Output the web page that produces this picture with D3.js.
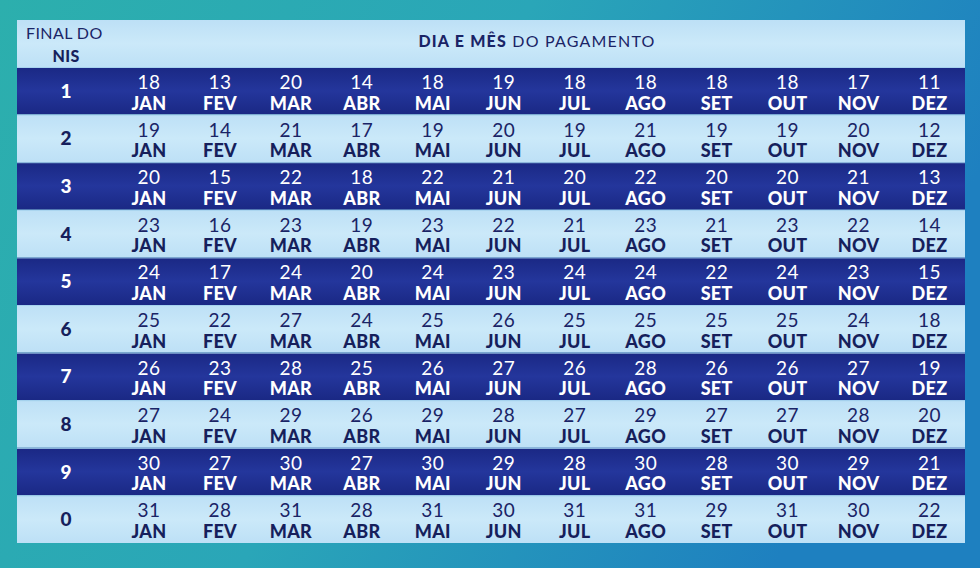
<!DOCTYPE html>
<html>
<head>
<meta charset="utf-8">
<script src="https://cdn.jsdelivr.net/npm/d3@7"></script>
<style>
  html, body { margin: 0; padding: 0; }
  body { width: 980px; height: 568px; overflow: hidden; }
  text { font-family: Lato, "Open Sans", sans-serif; }
</style>
</head>
<body>
<svg id="chart" width="980" height="568"></svg>
<script>
const nisEndings = ['1', '2', '3', '4', '5', '6', '7', '8', '9', '0'];
const months = ['JAN', 'FEV', 'MAR', 'ABR', 'MAI', 'JUN', 'JUL', 'AGO', 'SET', 'OUT', 'NOV', 'DEZ'];

// payment day per NIS ending, one array per row, Jan..Dez
const days1 = [18, 13, 20, 14, 18, 19, 18, 18, 18, 18, 17, 11];
const days2 = [19, 14, 21, 17, 19, 20, 19, 21, 19, 19, 20, 12];
const days3 = [20, 15, 22, 18, 22, 21, 20, 22, 20, 20, 21, 13];
const days4 = [23, 16, 23, 19, 23, 22, 21, 23, 21, 23, 22, 14];
const days5 = [24, 17, 24, 20, 24, 23, 24, 24, 22, 24, 23, 15];
const days6 = [25, 22, 27, 24, 25, 26, 25, 25, 25, 25, 24, 18];
const days7 = [26, 23, 28, 25, 26, 27, 26, 28, 26, 26, 27, 19];
const days8 = [27, 24, 29, 26, 29, 28, 27, 29, 27, 27, 28, 20];
const days9 = [30, 27, 30, 27, 30, 29, 28, 30, 28, 30, 29, 21];
const days0 = [31, 28, 31, 28, 31, 30, 31, 31, 29, 31, 30, 22];

const headerLeft = ['FINAL DO', 'NIS'];
const headerBold = 'DIA E MÊS';
const headerRest = ' DO PAGAMENTO';

const allDays = [days1, days2, days3, days4, days5, days6, days7, days8, days9, days0];
const rows = nisEndings.map((n, i) => ({ nis: n, days: allDays[i], dark: i % 2 === 0 }));

const svg = d3.select('#chart');
const W = 980, H = 568;
const tLeft = 17, tRight = 965, tTop = 20, headerH = 47, tBottom = 543;
const firstColW = 96.5;

const defs = svg.append('defs');

const bg = defs.append('linearGradient').attr('id', 'bg')
    .attr('x1', 0).attr('y1', 0).attr('x2', 1).attr('y2', 0.3);
bg.append('stop').attr('offset', '0%').attr('stop-color', '#2cafad');
bg.append('stop').attr('offset', '50%').attr('stop-color', '#2aa6b8');
bg.append('stop').attr('offset', '100%').attr('stop-color', '#1e80c0');

const darkG = defs.append('linearGradient').attr('id', 'darkRow')
    .attr('x1', 0).attr('y1', 0).attr('x2', 0).attr('y2', 1);
darkG.append('stop').attr('offset', '0%').attr('stop-color', '#1a2884');
darkG.append('stop').attr('offset', '50%').attr('stop-color', '#24369c');
darkG.append('stop').attr('offset', '100%').attr('stop-color', '#1a2884');

const lightG = defs.append('linearGradient').attr('id', 'lightRow')
    .attr('x1', 0).attr('y1', 0).attr('x2', 0).attr('y2', 1);
lightG.append('stop').attr('offset', '0%').attr('stop-color', '#bde0f6');
lightG.append('stop').attr('offset', '50%').attr('stop-color', '#cbe9f9');
lightG.append('stop').attr('offset', '100%').attr('stop-color', '#bde0f6');

svg.append('rect').attr('width', W).attr('height', H).attr('fill', 'url(#bg)');

const y = d3.scaleBand().domain(nisEndings).range([tTop + headerH, tBottom]);
const x = d3.scaleBand().domain(months).range([tLeft + firstColW, tRight]);

// header
svg.append('rect')
    .attr('x', tLeft).attr('y', tTop)
    .attr('width', tRight - tLeft).attr('height', headerH)
    .attr('fill', 'url(#lightRow)');

svg.append('text')
    .attr('x', tLeft + 9).attr('y', tTop + 19)
    .attr('font-size', 16).attr('fill', '#1a2466')
    .attr('letter-spacing', 0.4)
    .text(headerLeft[0]);
svg.append('text')
    .attr('x', tLeft + 49).attr('y', tTop + 42)
    .attr('text-anchor', 'middle')
    .attr('font-size', 16).attr('font-weight', 900).attr('fill', '#161f5c')
    .attr('letter-spacing', 0.4)
    .text(headerLeft[1]);

const ht = svg.append('text')
    .attr('x', 537).attr('y', tTop + 27)
    .attr('text-anchor', 'middle')
    .attr('font-size', 16).attr('fill', '#1a2466')
    .attr('letter-spacing', 1.2);
ht.append('tspan').attr('font-weight', 900).text(headerBold);
ht.append('tspan').text(headerRest);

const row = svg.selectAll('.row')
    .data(rows)
    .enter().append('g')
    .attr('class', 'row')
    .attr('transform', d => 'translate(0,' + y(d.nis) + ')');

row.append('rect')
    .attr('x', tLeft).attr('y', 0)
    .attr('width', tRight - tLeft).attr('height', y.bandwidth())
    .attr('fill', d => d.dark ? 'url(#darkRow)' : 'url(#lightRow)');

row.append('line')
    .attr('x1', tLeft).attr('x2', tRight)
    .attr('y1', 0.5).attr('y2', 0.5)
    .attr('stroke', '#a6d2ee').attr('stroke-width', 1);

row.append('text')
    .attr('x', tLeft + 49)
    .attr('y', y.bandwidth() / 2 + 7)
    .attr('text-anchor', 'middle')
    .attr('font-size', 19).attr('font-weight', 900)
    .attr('fill', d => d.dark ? '#ffffff' : '#161f5c')
    .text(d => d.nis);

const cell = row.selectAll('.cell')
    .data(d => d.days.map((v, i) => ({ day: v, month: months[i], dark: d.dark })))
    .enter().append('g')
    .attr('class', 'cell')
    .attr('transform', d => 'translate(' + (x(d.month) + x.bandwidth() / 2) + ',0)');

cell.append('text')
    .attr('y', 22)
    .attr('text-anchor', 'middle')
    .attr('font-size', 19)
    .attr('letter-spacing', 0.5)
    .attr('fill', d => d.dark ? '#ffffff' : '#1a2466')
    .text(d => d.day);

cell.append('text')
    .attr('y', 42.5)
    .attr('text-anchor', 'middle')
    .attr('font-size', 18).attr('font-weight', 900)
    .attr('letter-spacing', 0.3)
    .attr('fill', d => d.dark ? '#ffffff' : '#161f5c')
    .text(d => d.month);
</script>
</body>
</html>
